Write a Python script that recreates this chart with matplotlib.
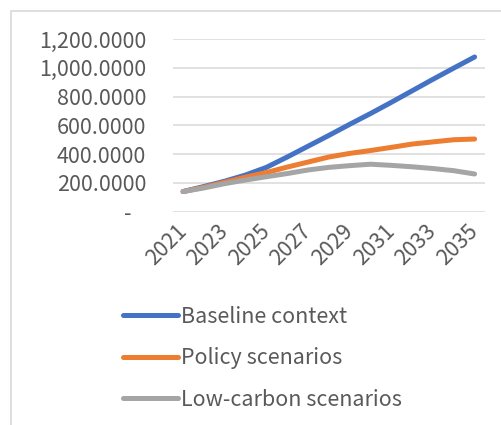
import matplotlib
matplotlib.use("Agg")
import matplotlib.pyplot as plt
from matplotlib.patches import Rectangle

plt.rcParams['font.family'] = ['Noto Sans CJK SC', 'DejaVu Sans']

years = list(range(2021, 2036))
baseline = [140, 175, 212, 255, 308, 380, 455, 530, 607, 682, 760, 840, 920, 998, 1075]
policy = [140, 170, 205, 240, 272, 310, 345, 380, 405, 425, 447, 470, 485, 500, 505]
lowcarbon = [140, 165, 195, 220, 243, 265, 290, 308, 320, 330, 322, 312, 300, 285, 262]
series_names = ["Baseline context", "Policy scenarios", "Low-carbon scenarios"]
colors = ["#4472C4", "#ED7D31", "#A5A5A5"]
y_ticks = [0, 200, 400, 600, 800, 1000, 1200]
y_labels = ["-   ", "200.0000", "400.0000", "600.0000", "800.0000", "1,000.0000", "1,200.0000"]

W, H = 502, 425
fig = plt.figure(figsize=(W / 100, H / 100), dpi=100)
fig.patch.set_facecolor("white")

left, right, top, bottom = 172.7, 485.0, 39.0, 211.7
ax = fig.add_axes([left / W, 1 - bottom / H, (right - left) / W, (bottom - top) / H])

x = list(range(len(years)))
for vals, name, c in zip([baseline, policy, lowcarbon], series_names, colors):
    ax.plot(x, vals, color=c, lw=3.6, solid_capstyle="round", solid_joinstyle="round", label=name, zorder=3)

ax.set_xlim(-0.5, len(years) - 0.5)
ax.set_ylim(0, 1200)
ax.set_yticks(y_ticks)
ax.set_yticklabels(y_labels)
ax.yaxis.grid(True, color="#D9D9D9", lw=1.1)
ax.set_axisbelow(True)
for s in ax.spines.values():
    s.set_visible(False)
ax.tick_params(axis="both", length=0, labelsize=15.5, labelcolor="#595959")
ax.tick_params(axis="y", pad=19)
ax.set_xticks(x[::2])
ax.set_xticklabels([str(y) for y in years[::2]], rotation=45, ha="right", va="center",
                   rotation_mode="anchor")
ax.tick_params(axis="x", pad=12)

leg = fig.legend(loc="upper left", bbox_to_anchor=(123 / W, 1 - 306 / H), frameon=False,
                 fontsize=15.5, handlelength=2.55, handletextpad=0.15, labelspacing=0.9,
                 borderaxespad=0, borderpad=0)
for t in leg.get_texts():
    t.set_color("#595959")

fig.add_artist(Rectangle((11 / W, -0.05), 1.2, 1 - 10.7 / H + 0.05, transform=fig.transFigure,
                         fill=False, edgecolor="#D9D9D9", lw=1.2))

fig.savefig("out.png", dpi=100)
